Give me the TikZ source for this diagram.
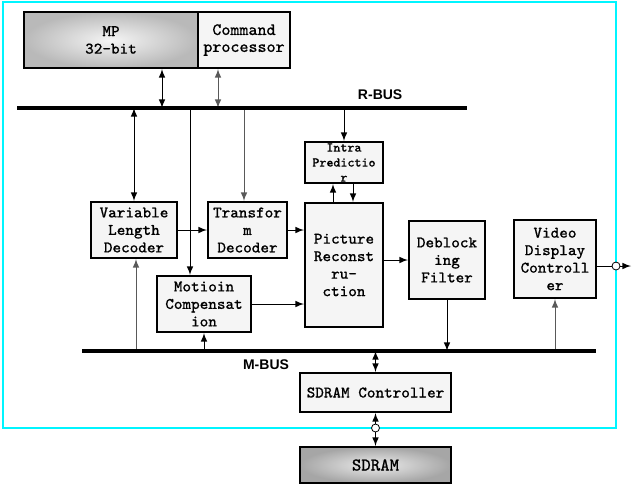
\documentclass[tikz,border=0pt]{standalone}
\usepackage{fontspec}
\setsansfont{Liberation Sans}
\newfontfamily\boxfont{Latin Modern Mono}[FakeBold=0.6]
\definecolor{frcyan}{RGB}{0,245,255}

\begin{document}
\begin{tikzpicture}[x=0.5pt, y=-0.5pt,
  blk/.style={draw, line width=1pt, fill=gray!8, align=center, inner sep=0pt,
    font=\boxfont\fontsize{8.1}{8.75}\selectfont},
  bus/.style={line width=2pt},
  buslbl/.style={font=\sffamily\bfseries\fontsize{7}{8}\selectfont},
  lnk/.style={line width=0.5pt},
  glnk/.style={line width=0.5pt, gray!70!black},
  port/.style={circle, draw, fill=white, inner sep=0pt, minimum size=4pt, line width=0.4pt}]
\useasboundingbox (0,0) rectangle (632,484);
\coordinate (frnw) at (3,2);
\coordinate (frse) at (616,428);
\draw[frcyan, line width=1pt] (frnw) rectangle (frse);

% top row
\node[blk, inner color=gray!8, outer color=gray!55, minimum width=87pt, minimum height=28pt] (mp) at (111,40) {MP\\32-bit};
\node[blk, font=\boxfont\fontsize{8.6}{8.5}\selectfont, minimum width=46pt, minimum height=28pt] (cmd) at (244,40) {Command\\processor};

% decoder blocks
\node[blk, minimum width=43pt, minimum height=28pt] (vld) at (134,230) {Variable\\Length\\Decoder};
\node[blk, minimum width=39.5pt, minimum height=28pt] (td) at (247.5,230) {Transfor\\m\\Decoder};
\node[blk, minimum width=47pt, minimum height=28pt] (mc) at (204,304) {Motioin\\Compensat\\ion};
\node[blk, font=\boxfont\fontsize{6.6}{7.5}\selectfont, minimum width=39pt, minimum height=20.5pt] (intra) at (344,162.5) {Intra\\Predictio\\r};
\node[blk, minimum width=39pt, minimum height=62pt] (pr) at (344,265) {Picture\\Reconst\\ru-\\ction};
\node[blk, minimum width=38pt, minimum height=39pt] (df) at (447,260) {Deblock\\ing\\Filter};
\node[blk, minimum width=41pt, minimum height=39pt] (vdc) at (555,259) {Video\\Display\\Controll\\er};

% memory
\node[blk, minimum width=75.5pt, minimum height=19.5pt] (sdc) at (375.5,392.5) {SDRAM Controller};
\node[blk, font=\boxfont\fontsize{9}{9}\selectfont, inner color=gray!15, outer color=gray!70, minimum width=75.5pt, minimum height=18pt] (sdram) at (375.5,465) {SDRAM};

% buses
\coordinate (rbw) at (17,108);
\coordinate (rbe) at (467,108);
\coordinate (mbw) at (82,351);
\coordinate (mbe) at (596,351);

% R-BUS links
\draw[lnk, latex-latex] ([xshift=25.5pt]mp.south) coordinate (a1) -- (a1 |- rbw);
\draw[glnk, latex-latex] ([xshift=-13pt]cmd.south) coordinate (a2) -- (a2 |- rbw);
\draw[lnk, latex-latex] (vld.north |- rbw) -- (vld.north);
\draw[lnk, latex-] ([xshift=-7pt]mc.north) coordinate (a3) -- (a3 |- rbw);
\draw[glnk, latex-] ([xshift=-1.75pt]td.north) coordinate (a4) -- (a4 |- rbw);
\draw[lnk, latex-] (intra.north) -- (intra.north |- rbw);

% data path
\draw[lnk, -latex] ([xshift=-5.5pt]pr.north) coordinate (a5) -- (a5 |- intra.south);
\draw[lnk, -latex] ([xshift=4.5pt]intra.south) coordinate (a6) -- (a6 |- pr.north);
\draw[lnk, -latex] (vld.east) -- (td.west);
\draw[lnk, -latex] (td.east) -- (td.east -| pr.west);
\draw[lnk, -latex] (mc.east) -- (mc.east -| pr.west);
\draw[lnk, -latex] (df.west -| pr.east) -- (df.west);

% M-BUS links
\draw[lnk, -latex] (df.south) -- (df.south |- mbw);
\draw[glnk, -latex] (vdc.south |- mbw) -- (vdc.south);
\draw[glnk, latex-] ([xshift=1pt]vld.south) coordinate (a7) -- (a7 |- mbw);
\draw[lnk, latex-] (mc.south) -- (mc.south |- mbw);
\draw[lnk, latex-latex] (sdc.north |- mbw) -- (sdc.north);

% ports on the frame
\node[port] (p2) at (sdc.south |- frse) {};
\draw[lnk, latex-] (sdc.south) -- (p2);
\draw[lnk, -latex] (p2) -- (sdram.north);
\node[port] (p1) at ([yshift=-3.5pt]vdc.east -| frse) {};
\coordinate (vout) at (631,266);
\draw[lnk] ([yshift=-3.5pt]vdc.east) -- (p1);
\draw[lnk, -latex] (p1) -- (vout);

\draw[bus] (rbw) -- (rbe) node[buslbl, pos=0.807, above] (rbl) {R-BUS};
\draw[bus] (mbw) -- (mbe) node[buslbl, pos=0.358, below] (mbl) {M-BUS};
\end{tikzpicture}
\end{document}
